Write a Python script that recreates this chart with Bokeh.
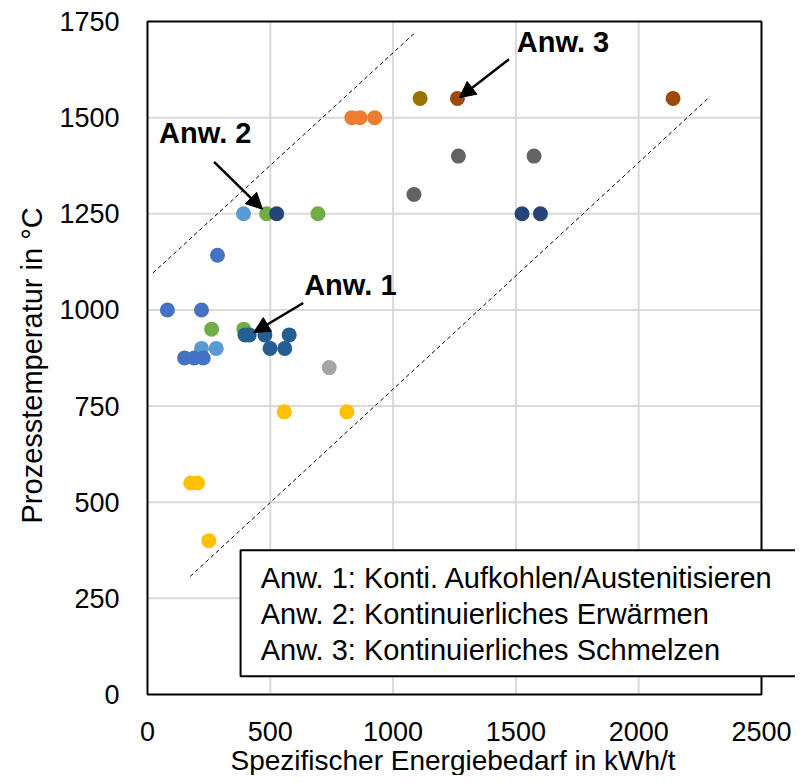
from bokeh.plotting import figure
from bokeh.models import Range1d, FixedTicker, Label, Arrow, NormalHead, Title
from bokeh.embed import file_html
from bokeh.resources import INLINE

# ---------------- data ----------------
x_ticks = [0, 500, 1000, 1500, 2000, 2500]
y_ticks = [0, 250, 500, 750, 1000, 1250, 1500, 1750]

x_title = "Spezifischer Energiebedarf in kWh/t"
y_title = "Prozesstemperatur in °C"

# series (energy demand kWh/t, process temperature °C)
lightblue_x = [391, 220, 280]
lightblue_y = [1250, 900, 900]
blue_x = [81, 220, 285, 151, 190, 227]
blue_y = [1000, 1000, 1142, 875, 875, 875]
orange_x = [832, 865, 925]
orange_y = [1500, 1500, 1500]
gray_x = [740]
gray_y = [850]
gold_x = [557, 812, 176, 204, 250]
gold_y = [735, 735, 550, 550, 400]
green_x = [485, 694, 261, 392]
green_y = [1250, 1250, 950, 950]
navy_x = [526, 1525, 1600]
navy_y = [1250, 1250, 1250]
steel_x = [397, 414, 478, 577, 499, 559]
steel_y = [935, 935, 935, 935, 900, 900]
brown_x = [1262, 2140]
brown_y = [1550, 1550]
darkgray_x = [1266, 1574, 1085]
darkgray_y = [1400, 1400, 1300]
olive_x = [1110]
olive_y = [1550]

# guide lines (dashed)
upper_guide_x = [22, 1088]
upper_guide_y = [1096, 1720]
lower_guide_x = [174, 2291]
lower_guide_y = [307, 1555]

legend_lines = [
    "Anw. 1: Konti. Aufkohlen/Austenitisieren",
    "Anw. 2: Kontinuierliches Erwärmen",
    "Anw. 3: Kontinuierliches Schmelzen",
]

# ---------------- figure ----------------
FONT = "Liberation Sans"
W, H = 795, 775

# frame spans to the right canvas edge so the note box can run past the plot border
x_lo, x_hi = -8.1, 2638.5
y_lo, y_hi = -5.2, 1755.2

p = figure(width=W, height=H, output_backend="svg", toolbar_location=None,
           x_range=Range1d(x_lo, x_hi), y_range=Range1d(y_lo, y_hi),
           min_border_left=145, min_border_right=0,
           min_border_top=19, min_border_bottom=79)

p.background_fill_color = "white"
p.border_fill_color = "white"
p.outline_line_color = None
p.grid.visible = False

p.xaxis.ticker = FixedTicker(ticks=x_ticks)
p.yaxis.ticker = FixedTicker(ticks=y_ticks)
for ax in (p.xaxis, p.yaxis):
    ax.axis_line_color = None
    ax.major_tick_line_color = None
    ax.minor_tick_line_color = None
    ax.major_tick_out = 0
    ax.major_tick_in = 0
    ax.minor_tick_out = 0
    ax.minor_tick_in = 0
    ax.major_label_text_font = FONT
    ax.major_label_text_font_size = "27px"
    ax.major_label_text_color = "black"

p.xaxis.major_label_standoff = 25
p.yaxis.major_label_standoff = 26

p.add_layout(Title(text=x_title, align="left", offset=85, standoff=-2,
                   text_font=FONT, text_font_size="28px", text_font_style="normal",
                   text_color="black"), "below")
p.add_layout(Title(text=y_title, align="left", offset=173, standoff=18,
                   text_font=FONT, text_font_size="29px", text_font_style="normal",
                   text_color="black"), "left")

# grid lines (restricted to the plotted area)
inner_y = y_ticks[1:-1]
inner_x = x_ticks[1:-1]
p.segment(x0=[x_ticks[0]] * len(inner_y), x1=[x_ticks[-1]] * len(inner_y),
          y0=inner_y, y1=inner_y, line_color="#d9d9d9", line_width=2)
p.segment(x0=inner_x, x1=inner_x, y0=[y_ticks[0]] * len(inner_x),
          y1=[y_ticks[-1]] * len(inner_x), line_color="#d9d9d9", line_width=2)

# dashed guide lines
p.line(upper_guide_x, upper_guide_y, line_color="black", line_width=1, line_dash="4 3")
p.line(lower_guide_x, lower_guide_y, line_color="black", line_width=1, line_dash="4 3")

# scatter series
series = [
    (lightblue_x, lightblue_y, "#5B9BD5"),
    (blue_x, blue_y, "#4472C4"),
    (orange_x, orange_y, "#ED7D31"),
    (gray_x, gray_y, "#A5A5A5"),
    (gold_x, gold_y, "#FFC000"),
    (green_x, green_y, "#70AD47"),
    (navy_x, navy_y, "#264478"),
    (steel_x, steel_y, "#255E91"),
    (brown_x, brown_y, "#9E480E"),
    (darkgray_x, darkgray_y, "#636363"),
    (olive_x, olive_y, "#997300"),
]
for xs, ys, c in series:
    p.scatter(xs, ys, size=15, fill_color=c, line_color=c, line_width=0)

# plot border
p.quad(left=[x_ticks[0]], right=[x_ticks[-1]], bottom=[y_ticks[0]], top=[y_ticks[-1]],
       fill_color=None, line_color="black", line_width=2)

# note box (runs past the right border, as in the original)
p.quad(left=[379], right=[2700], bottom=[47.5], top=[375],
       fill_color="white", line_color="black", line_width=2)
for txt, ym in zip(legend_lines, [302.8, 209.2, 116.9]):
    p.add_layout(Label(x=461, y=ym, text=txt, text_font=FONT, text_font_size="29px",
                       text_color="black", text_baseline="middle", text_align="left"))

# annotations (bold labels + arrows)
def bold_label(x, y, txt):
    p.add_layout(Label(x=x, y=y, text=txt, text_font=FONT, text_font_size="29px",
                       text_font_style="bold", text_color="black",
                       text_baseline="middle", text_align="left"))

bold_label(638, 1066, "Anw. 1")
bold_label(47, 1460, "Anw. 2")
bold_label(1504, 1697, "Anw. 3")

def arrow(x0, y0, x1, y1):
    p.add_layout(Arrow(end=NormalHead(size=16, fill_color="black", line_color="black", line_width=1),
                       x_start=x0, y_start=y0, x_end=x1, y_end=y1,
                       line_color="black", line_width=2.5))

arrow(634, 1018, 432, 941)
arrow(271, 1385, 468, 1262)
arrow(1472, 1652, 1270, 1552)

open("out.html", "w").write(file_html(p, INLINE))
